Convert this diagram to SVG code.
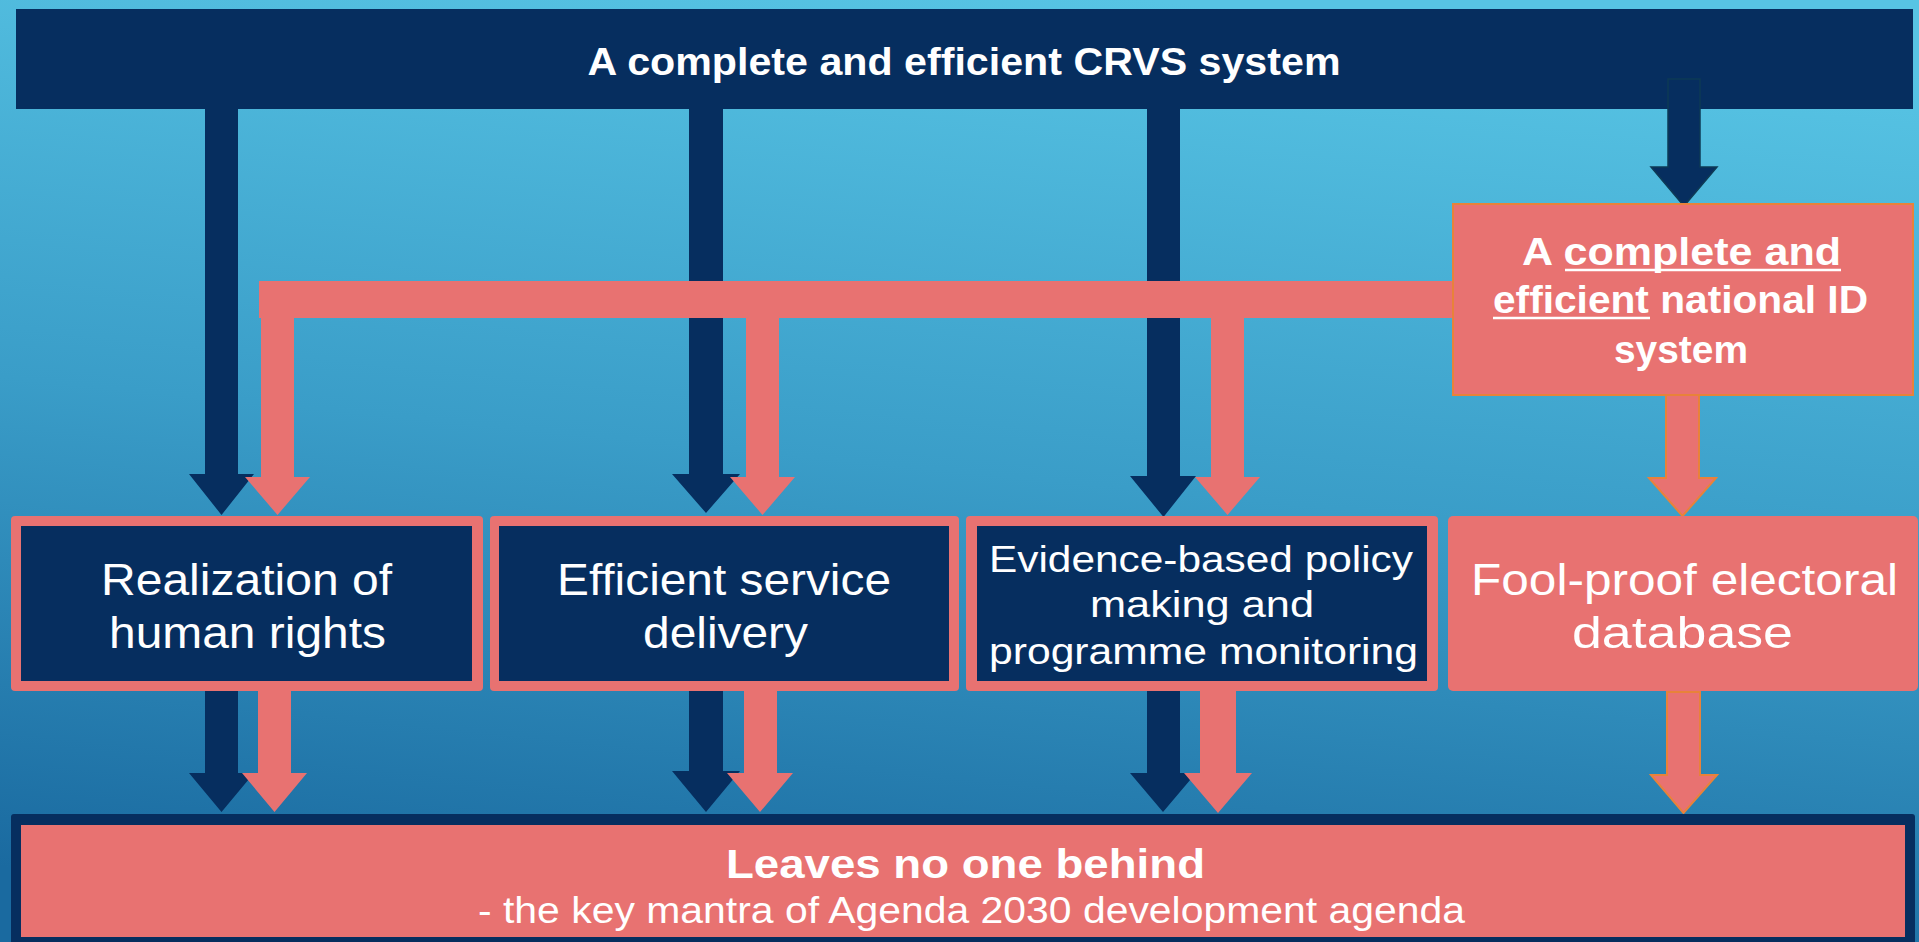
<svg xmlns="http://www.w3.org/2000/svg" width="1919" height="942" viewBox="0 0 1919 942">
<defs>
<linearGradient id="bg" x1="0.6" y1="0" x2="0.4" y2="1">
<stop offset="0" stop-color="#57c4e4"/>
<stop offset="0.5" stop-color="#3a9dc8"/>
<stop offset="1" stop-color="#1a6aa0"/>
</linearGradient>
<style>
.navy{fill:#062e5f}
.pink{fill:#e87271}
.pinko{fill:#e87271;stroke:#e8823a;stroke-width:2}
.navyo{fill:#062e5f;stroke:#0d3a55;stroke-width:1.5}
.t{font-family:"Liberation Sans",Arial,sans-serif;fill:#ffffff;text-anchor:middle}
.b{font-weight:bold}
.ul{stroke:#ffffff;stroke-width:2.5}
</style>
</defs>
<rect x="0" y="0" width="1919" height="942" fill="url(#bg)"/>

<g id="crvs">
<rect class="navy" x="16" y="9" width="1897" height="100"/>
<text class="t b" x="964" y="75" font-size="39" textLength="753" lengthAdjust="spacingAndGlyphs">A complete and efficient CRVS system</text>
</g>

<g id="connectors">
<polygon class="navy" points="205,109 238,109 238,474 254,474 221.5,515 189,474 205,474"/>
<polygon class="navy" points="689,109 723,109 723,474 740,474 706,513 672,474 689,474"/>
<polygon class="navy" points="1147,109 1180,109 1180,476 1196,476 1163.5,517 1130,476 1147,476"/>
<polygon class="navyo" points="1668,79 1700,79 1700,167 1717,167 1684,206 1651,167 1668,167"/>
<rect class="pink" x="259" y="281" width="1196" height="37"/>
<polygon class="pink" points="261,318 294,318 294,477 310,477 277.5,515 245,477 261,477"/>
<polygon class="pink" points="746,318 779,318 779,477 795,477 762.5,515 730,477 746,477"/>
<polygon class="pink" points="1211,318 1244,318 1244,477 1260,477 1227.5,515 1195,477 1211,477"/>
<polygon class="pinko" points="1666,395 1699,395 1699,478 1716,478 1682.5,516 1649,478 1666,478"/>
<polygon class="navy" points="205,691 238,691 238,773 254,773 221.5,812 189,773 205,773"/>
<polygon class="pink" points="258,691 291,691 291,773 307,773 274.5,812 242,773 258,773"/>
<polygon class="navy" points="689,691 723,691 723,771 740,771 706,812 672,771 689,771"/>
<polygon class="pink" points="744,691 777,691 777,773 793,773 760,812 727,773 744,773"/>
<polygon class="navy" points="1147,691 1180,691 1180,773 1196,773 1163,812 1130,773 1147,773"/>
<polygon class="pink" points="1200,691 1236,691 1236,773 1252,773 1218,813 1184,773 1200,773"/>
<polygon class="pinko" points="1667,692 1700,692 1700,775 1717,775 1683.5,813 1651,775 1667,775"/>
</g>

<g id="national-id">
<rect class="pinko" x="1453" y="204" width="460" height="191"/>
<text class="t b" x="1681.5" y="265" font-size="38" textLength="319" lengthAdjust="spacingAndGlyphs">A complete and</text>
<line class="ul" x1="1565" y1="270" x2="1841" y2="270"/>
<text class="t b" x="1680.5" y="313" font-size="38" textLength="375" lengthAdjust="spacingAndGlyphs">efficient national ID</text>
<line class="ul" x1="1493" y1="318" x2="1650" y2="318"/>
<text class="t b" x="1681" y="363" font-size="38" textLength="134" lengthAdjust="spacingAndGlyphs">system</text>
</g>

<g id="human-rights">
<rect class="pink" x="11" y="516" width="472" height="175" rx="4"/>
<rect class="navy" x="21" y="526" width="451" height="155"/>
<text class="t" x="246.5" y="595" font-size="45" textLength="291" lengthAdjust="spacingAndGlyphs">Realization of</text>
<text class="t" x="247.5" y="648" font-size="45" textLength="277" lengthAdjust="spacingAndGlyphs">human rights</text>
</g>

<g id="service-delivery">
<rect class="pink" x="490" y="516" width="469" height="175" rx="4"/>
<rect class="navy" x="499" y="526" width="450" height="155"/>
<text class="t" x="724" y="595" font-size="45" textLength="334" lengthAdjust="spacingAndGlyphs">Efficient service</text>
<text class="t" x="725.5" y="648" font-size="45" textLength="165" lengthAdjust="spacingAndGlyphs">delivery</text>
</g>

<g id="policy-making">
<rect class="pink" x="966" y="516" width="472" height="175" rx="4"/>
<rect class="navy" x="977" y="526" width="450" height="155"/>
<text class="t" x="1201" y="572" font-size="36" textLength="424" lengthAdjust="spacingAndGlyphs">Evidence-based policy</text>
<text class="t" x="1202" y="617" font-size="36" textLength="224" lengthAdjust="spacingAndGlyphs">making and</text>
<text class="t" x="1203.5" y="664" font-size="36" textLength="429" lengthAdjust="spacingAndGlyphs">programme  monitoring</text>
</g>

<g id="electoral-database">
<rect class="pink" x="1448" y="516" width="470" height="175" rx="5"/>
<text class="t" x="1684.5" y="595" font-size="45" textLength="427" lengthAdjust="spacingAndGlyphs">Fool-proof electoral</text>
<text class="t" x="1682.5" y="648" font-size="45" textLength="221" lengthAdjust="spacingAndGlyphs">database</text>
</g>

<g id="leaves-no-one-behind">
<rect class="navy" x="11" y="814" width="1904" height="130" rx="3"/>
<rect class="pink" x="21" y="825" width="1884" height="112"/>
<text class="t b" x="965.5" y="878" font-size="41" textLength="479" lengthAdjust="spacingAndGlyphs">Leaves no one behind</text>
<text class="t" x="971.5" y="923" font-size="37" textLength="987" lengthAdjust="spacingAndGlyphs">- the key mantra of Agenda 2030 development agenda</text>
</g>
</svg>
